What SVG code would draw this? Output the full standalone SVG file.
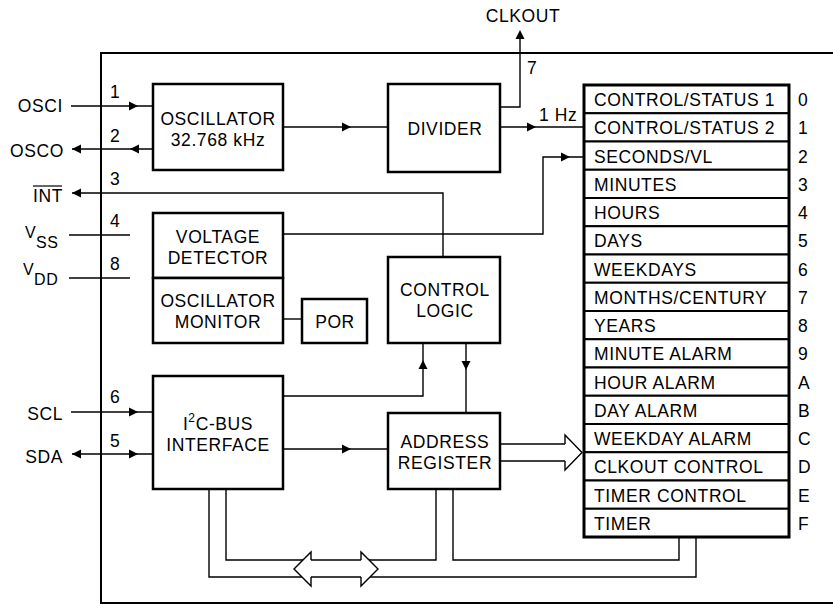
<svg xmlns="http://www.w3.org/2000/svg" xmlns:xlink="http://www.w3.org/1999/xlink" width="833" height="605" viewBox="0 0 833 605">
<style>
text{font-family:"Liberation Sans",Arial,sans-serif;font-size:17.5px;letter-spacing:0.6px;fill:#000}
.m{text-anchor:middle}
.e{text-anchor:end}
.box{fill:#fff;stroke:#000;stroke-width:2.5}
.ln{fill:none;stroke:#000;stroke-width:1.4}
.frame{fill:none;stroke:#000;stroke-width:2}
.row{fill:#fff;stroke:#000;stroke-width:2}
.hol{fill:#fff;stroke:#000;stroke-width:1.4;stroke-linejoin:miter}
.sub{font-size:16px}
</style>
<defs>
<path id="ah" d="M0,0 L-9,-4.5 L-9,4.5 Z" fill="#000"/>
</defs>
<path class="frame" d="M835,53 H101 V603 H835"/>

<g id="connectors">
<path class="ln" d="M71,106 H153"/>
<path class="ln" d="M72,149 H153"/>
<path class="ln" d="M72,193 H443 V257"/>
<path class="ln" d="M69,235 H130"/>
<path class="ln" d="M69,278 H130"/>
<path class="ln" d="M71,412 H153"/>
<path class="ln" d="M72,454 H153"/>
<path class="ln" d="M283,127 H388"/>
<path class="ln" d="M500,127 H584"/>
<path class="ln" d="M500,107 H520 V32"/>
<path class="ln" d="M283,234 H543 V157 H584"/>
<path class="ln" d="M283,319 H302"/>
<path class="ln" d="M283,396 H423 V343"/>
<path class="ln" d="M466,343 V413"/>
<path class="ln" d="M283,449 H388"/>
<path class="ln" d="M226,489 V560 H436 V489"/>
<path class="ln" d="M209,489 V577 H696 V537"/>
<path class="ln" d="M453,489 V560 H679 V537"/>
<path class="ln" d="M500,444 H566"/>
<path class="ln" d="M500,461 H566"/>
<path class="hol" d="M565,444 V435 L582,452.5 L565,470 V461"/>
<path class="hol" d="M311,560 V552 L294,569 L311,586 V577"/>
<path class="hol" d="M361,560 V552 L378,569 L361,586 V577"/>
<use xlink:href="#ah" transform="translate(138,106)"/>
<use xlink:href="#ah" transform="translate(72,149) rotate(180)"/>
<use xlink:href="#ah" transform="translate(130,149) rotate(180)"/>
<use xlink:href="#ah" transform="translate(72,193) rotate(180)"/>
<use xlink:href="#ah" transform="translate(351,127)"/>
<use xlink:href="#ah" transform="translate(536,127)"/>
<use xlink:href="#ah" transform="translate(520,30) rotate(-90)"/>
<use xlink:href="#ah" transform="translate(570,157)"/>
<use xlink:href="#ah" transform="translate(423,360) rotate(-90)"/>
<use xlink:href="#ah" transform="translate(466,370) rotate(90)"/>
<use xlink:href="#ah" transform="translate(351,449)"/>
<use xlink:href="#ah" transform="translate(138,412)"/>
<use xlink:href="#ah" transform="translate(72,454) rotate(180)"/>
<use xlink:href="#ah" transform="translate(138,454)"/>
</g>

<g id="pins">
<text class="e" x="63" y="112">OSCI</text>
<text class="e" x="64" y="157">OSCO</text>
<text class="e" x="63" y="202">INT</text>
<path d="M33,186 H62" stroke="#000" stroke-width="1.2"/>
<text class="sub" x="25" y="238">V</text>
<text class="sub" x="36" y="248">SS</text>
<text class="sub" x="23" y="275">V</text>
<text class="sub" x="34" y="285">DD</text>
<text class="e" x="63" y="420">SCL</text>
<text class="e" x="63" y="463">SDA</text>
<text x="110" y="98">1</text>
<text x="110" y="142">2</text>
<text x="110" y="185">3</text>
<text x="110" y="227">4</text>
<text x="110" y="270">8</text>
<text x="110" y="403">6</text>
<text x="110" y="447">5</text>
<text x="527" y="74">7</text>
<text class="m" x="523" y="22">CLKOUT</text>
<text x="539" y="121">1 Hz</text>
</g>

<g id="oscillator">
<rect class="box" x="153" y="84" width="130" height="86"/>
<text class="m" x="218" y="125">OSCILLATOR</text>
<text class="m" x="218" y="145.5">32.768 kHz</text>
</g>
<g id="divider">
<rect class="box" x="388" y="84" width="112" height="88"/>
<text class="m" x="445" y="135">DIVIDER</text>
</g>
<g id="voltage-detector">
<rect class="box" x="153" y="213" width="130" height="65"/>
<text class="m" x="218" y="243">VOLTAGE</text>
<text class="m" x="218" y="263.5">DETECTOR</text>
</g>
<g id="oscillator-monitor">
<rect class="box" x="153" y="278" width="130" height="65"/>
<text class="m" x="218" y="307">OSCILLATOR</text>
<text class="m" x="218" y="328">MONITOR</text>
</g>
<g id="por">
<rect class="box" x="302" y="299" width="65" height="44"/>
<text class="m" x="335" y="328">POR</text>
</g>
<g id="control-logic">
<rect class="box" x="388" y="257" width="112" height="86"/>
<text class="m" x="445" y="296">CONTROL</text>
<text class="m" x="445" y="316.5">LOGIC</text>
</g>
<g id="i2c-interface">
<rect class="box" x="153" y="376" width="130" height="113"/>
<text class="m" x="218" y="430">I<tspan dy="-8" style="font-size:12px">2</tspan><tspan dy="8">C-BUS</tspan></text>
<text class="m" x="218" y="450.5">INTERFACE</text>
</g>
<g id="address-register">
<rect class="box" x="388" y="413" width="112" height="76"/>
<text class="m" x="445" y="448">ADDRESS</text>
<text class="m" x="445" y="468.5">REGISTER</text>
</g>

<g id="registers">
<rect class="row" x="584" y="85" width="205" height="28.25"/>
<rect class="row" x="584" y="113.25" width="205" height="28.25"/>
<rect class="row" x="584" y="141.5" width="205" height="28.25"/>
<rect class="row" x="584" y="169.75" width="205" height="28.25"/>
<rect class="row" x="584" y="198" width="205" height="28.25"/>
<rect class="row" x="584" y="226.25" width="205" height="28.25"/>
<rect class="row" x="584" y="254.5" width="205" height="28.25"/>
<rect class="row" x="584" y="282.75" width="205" height="28.25"/>
<rect class="row" x="584" y="311" width="205" height="28.25"/>
<rect class="row" x="584" y="339.25" width="205" height="28.25"/>
<rect class="row" x="584" y="367.5" width="205" height="28.25"/>
<rect class="row" x="584" y="395.75" width="205" height="28.25"/>
<rect class="row" x="584" y="424" width="205" height="28.25"/>
<rect class="row" x="584" y="452.25" width="205" height="28.25"/>
<rect class="row" x="584" y="480.5" width="205" height="28.25"/>
<rect class="row" x="584" y="508.75" width="205" height="28.25"/>
<rect x="584" y="85" width="205" height="452" fill="none" stroke="#000" stroke-width="3"/>
<text x="594" y="106">CONTROL/STATUS 1</text>
<text x="594" y="134.25">CONTROL/STATUS 2</text>
<text x="594" y="162.5">SECONDS/VL</text>
<text x="594" y="190.75">MINUTES</text>
<text x="594" y="219">HOURS</text>
<text x="594" y="247.25">DAYS</text>
<text x="594" y="275.5">WEEKDAYS</text>
<text x="594" y="303.75">MONTHS/CENTURY</text>
<text x="594" y="332">YEARS</text>
<text x="594" y="360.25">MINUTE ALARM</text>
<text x="594" y="388.5">HOUR ALARM</text>
<text x="594" y="416.75">DAY ALARM</text>
<text x="594" y="445">WEEKDAY ALARM</text>
<text x="594" y="473.25">CLKOUT CONTROL</text>
<text x="594" y="501.5">TIMER CONTROL</text>
<text x="594" y="529.75">TIMER</text>
<text x="798" y="106">0</text>
<text x="798" y="134.25">1</text>
<text x="798" y="162.5">2</text>
<text x="798" y="190.75">3</text>
<text x="798" y="219">4</text>
<text x="798" y="247.25">5</text>
<text x="798" y="275.5">6</text>
<text x="798" y="303.75">7</text>
<text x="798" y="332">8</text>
<text x="798" y="360.25">9</text>
<text x="798" y="388.5">A</text>
<text x="798" y="416.75">B</text>
<text x="798" y="445">C</text>
<text x="798" y="473.25">D</text>
<text x="798" y="501.5">E</text>
<text x="798" y="529.75">F</text>
</g>
</svg>
